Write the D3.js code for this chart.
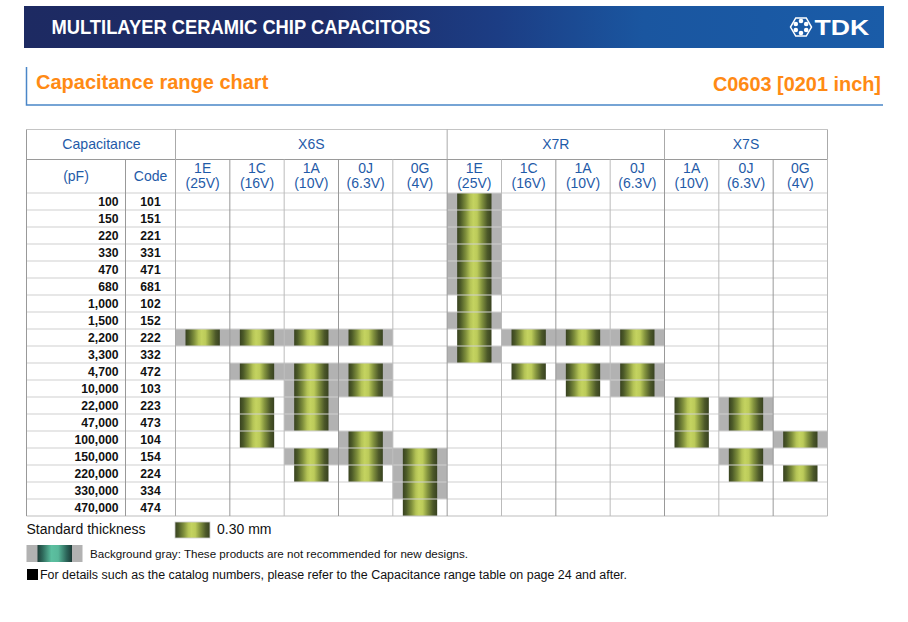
<!DOCTYPE html>
<html><head><meta charset="utf-8">
<script src="https://cdnjs.cloudflare.com/ajax/libs/d3/7.8.5/d3.min.js"></script>
<style>
html,body{margin:0;padding:0;background:#fff}
svg{display:block}
text{font-family:"Liberation Sans",Arial,sans-serif}
</style></head><body><div id="c"></div>
<script>
const capacitancePF=["100","150","220","330","470","680","1,000","1,500","2,200","3,300","4,700","10,000","22,000","47,000","100,000","150,000","220,000","330,000","470,000"];
const capCodes=["101","151","221","331","471","681","102","152","222","332","472","103","223","473","104","154","224","334","474"];
const groupNames=["X6S","X7R","X7S"];
const groupSizes=[5,4,3];
const voltCode=["1E","1C","1A","0J","0G","1E","1C","1A","0J","1A","0J","0G"];
const voltLabel=["(25V)","(16V)","(10V)","(6.3V)","(4V)","(25V)","(16V)","(10V)","(6.3V)","(10V)","(6.3V)","(4V)"];
// Row indexes into capCodes with a bar on gray background / a bar on plain background
const grayRows=[[8],[8,10],[8,10,11,12,13,15],[8,10,11,14,15],[15,16,17],[0,1,2,3,4,5,7,9],[8],[8,10],[8,10,11],[],[12,13,15],[14]];
const plainRows=[[],[12,13,14],[16],[16],[18],[6,8],[10],[11],[],[12,13,14],[16],[16]];

const W=908,H=622;
const blue="#1f5ba8",txt="#111";
const svg=d3.select("#c").append("svg").attr("width",W).attr("height",H);
const defs=svg.append("defs");
function grad(id,stops){const g=defs.append("linearGradient").attr("id",id).attr("x1",0).attr("y1",0).attr("x2",1).attr("y2",0);
 stops.forEach(s=>g.append("stop").attr("offset",s[0]).attr("stop-color",s[1]));}
grad("banner",[[0,"#1d2a62"],[.35,"#1d2c68"],[.55,"#1c3d84"],[.72,"#1a56a0"],[1,"#1a5ca8"]]);
grad("bar",[[0,"#384220"],[.1,"#4c5a28"],[.25,"#7f8f3c"],[.38,"#b4c356"],[.47,"#c4d360"],[.58,"#bccb5a"],[.72,"#83933e"],[.88,"#4c5829"],[1,"#384220"]]);
grad("teal",[[0,"#1f3f3a"],[.15,"#2f6a5c"],[.4,"#5cc0a0"],[.6,"#58b89a"],[.85,"#2b6358"],[1,"#1c3a36"]]);

// Banner
svg.append("rect").attr("x",24).attr("y",6).attr("width",860).attr("height",42).attr("fill","url(#banner)");
svg.append("text").attr("x",51.5).attr("y",33.5).attr("fill","#fff").attr("font-weight",700).attr("font-size",21).attr("textLength",379).attr("lengthAdjust","spacingAndGlyphs").text("MULTILAYER CERAMIC CHIP CAPACITORS");
// Logo
const lg=svg.append("g").attr("transform","translate(801,27)");
const hex=d3.range(6).map(i=>{const a=Math.PI/3*i;return [10.5*Math.cos(a),10.5*Math.sin(a)]});
lg.append("path").attr("d","M"+hex.join("L")+"Z").attr("fill","none").attr("stroke","#fff").attr("stroke-width",1.5);
d3.range(6).forEach(i=>{const a=Math.PI/3*i+Math.PI/6;
 lg.append("circle").attr("cx",6*Math.cos(a)).attr("cy",6*Math.sin(a)).attr("r",2.3).attr("fill","#fff");});
svg.append("text").attr("transform","translate(814.5,35) scale(1.21,1)").attr("fill","#fff").attr("font-weight",700).attr("font-size",22).text("TDK");

// Title block
svg.append("path").attr("d","M26.5 67V105H883").attr("fill","none").attr("stroke","#4a86c8").attr("stroke-width",1.5);
svg.append("text").attr("x",36).attr("y",89).attr("fill","#ff8a14").attr("font-weight",700).attr("font-size",20).text("Capacitance range chart");
svg.append("text").attr("x",881).attr("y",91).attr("text-anchor","end").attr("fill","#ff8a14").attr("font-weight",700).attr("font-size",19.9).text("C0603 [0201 inch]");

// Scales
const x=d3.scaleBand().domain(d3.range(voltCode.length)).range([175.5,827.5]);
const y=d3.scaleBand().domain(capCodes).range([193,516]);
const tblLeft=26.5,codeX=125.5,tblRight=x.range()[1],tblTop=129.5,midY=159.5,tblBottom=y.range()[1];
const inset=10;

// Gray backgrounds and bars
const cells=svg.append("g");
grayRows.forEach((rows,c)=>{
 cells.selectAll(null).data(rows).join("rect").attr("x",x(c)).attr("width",x.bandwidth()).attr("y",d=>y(capCodes[d])).attr("height",y.bandwidth()).attr("fill","#b2b2b2");
});
voltCode.forEach((_,c)=>{
 const rows=grayRows[c].concat(plainRows[c]);
 cells.selectAll(null).data(rows).join("rect").attr("x",x(c)+inset).attr("width",x.bandwidth()-2*inset).attr("y",d=>y(capCodes[d])).attr("height",y.bandwidth()).attr("fill","url(#bar)");
});

// Grid
const grid=svg.append("g").attr("fill","none");
capCodes.forEach(c=>{grid.append("line").attr("x1",tblLeft).attr("x2",tblRight).attr("y1",y(c)).attr("y2",y(c)).attr("stroke","#cfcfcf").attr("stroke-width",1.2);});
grid.append("line").attr("x1",tblLeft).attr("x2",tblRight).attr("y1",tblBottom).attr("y2",tblBottom).attr("stroke","#bdbdbd").attr("stroke-width",1.2);
grid.append("line").attr("x1",tblLeft).attr("x2",tblRight).attr("y1",tblTop).attr("y2",tblTop).attr("stroke","#c4c4c4").attr("stroke-width",1.2);
grid.append("line").attr("x1",tblLeft).attr("x2",tblRight).attr("y1",midY).attr("y2",midY).attr("stroke","#9a9a9a").attr("stroke-width",1);
grid.append("line").attr("x1",tblLeft).attr("x2",tblLeft).attr("y1",tblTop).attr("y2",tblBottom).attr("stroke","#999");
grid.append("line").attr("x1",codeX).attr("x2",codeX).attr("y1",midY).attr("y2",tblBottom).attr("stroke","#999");
grid.append("line").attr("x1",x.range()[0]).attr("x2",x.range()[0]).attr("y1",tblTop).attr("y2",tblBottom).attr("stroke","#aaa");
voltCode.forEach((_,c)=>{const xx=x(c)+x.bandwidth();
 grid.append("line").attr("x1",xx).attr("x2",xx).attr("y1",midY).attr("y2",tblBottom).attr("stroke",c%2?"#bbb":"#999");});
// group dividers through the header
let acc=0;
const head=svg.append("g").attr("fill",blue).attr("text-anchor","middle");
groupNames.forEach((g,i)=>{
 const a=x(acc),b=x(acc+groupSizes[i]-1)+x.bandwidth();
 grid.append("line").attr("x1",b).attr("x2",b).attr("y1",tblTop).attr("y2",midY).attr("stroke","#aaa");
 head.append("text").attr("x",(a+b)/2).attr("y",149).attr("font-size",14).text(g);
 acc+=groupSizes[i];
});
head.append("text").attr("x",101.5).attr("y",149).attr("font-size",14.1).text("Capacitance");
head.append("text").attr("x",76).attr("y",181).attr("font-size",14).text("(pF)");
head.append("text").attr("x",150.5).attr("y",181).attr("font-size",14).text("Code");
voltCode.forEach((v,c)=>{
 const cx=x(c)+x.bandwidth()/2;
 head.append("text").attr("x",cx).attr("y",173).attr("font-size",14).text(v);
 head.append("text").attr("x",cx).attr("y",188).attr("font-size",14).text(voltLabel[c]);
});

// Row labels
const labels=svg.append("g").attr("fill",txt).attr("font-weight",700).attr("font-size",12.2);
capCodes.forEach((c,i)=>{
 const yy=y(c)+y.bandwidth()/2+4.5;
 labels.append("text").attr("x",118.5).attr("y",yy).attr("text-anchor","end").text(capacitancePF[i]);
 labels.append("text").attr("x",150.5).attr("y",yy).attr("text-anchor","middle").text(c);
});

// Legend
svg.append("text").attr("x",26.5).attr("y",534).attr("font-size",14).attr("fill",txt).text("Standard thickness");
svg.append("rect").attr("x",175).attr("y",522).attr("width",35).attr("height",16).attr("fill","url(#bar)").attr("stroke","#ccc").attr("stroke-width",.8);
svg.append("text").attr("x",217).attr("y",534).attr("font-size",14).attr("fill",txt).text("0.30 mm");
svg.append("rect").attr("x",26.5).attr("y",545).attr("width",56).attr("height",17).attr("fill","#b2b2b2");
svg.append("rect").attr("x",37.5).attr("y",545).attr("width",34.5).attr("height",17).attr("fill","url(#teal)");
svg.append("text").attr("x",90).attr("y",558).attr("font-size",11.6).attr("fill",txt).text("Background gray: These products are not recommended for new designs.");
svg.append("rect").attr("x",27).attr("y",569).attr("width",11).attr("height",11).attr("fill","#000");
svg.append("text").attr("x",40).attr("y",579).attr("font-size",12.45).attr("fill",txt).text("For details such as the catalog numbers, please refer to the Capacitance range table on page 24 and after.");
</script></body></html>
